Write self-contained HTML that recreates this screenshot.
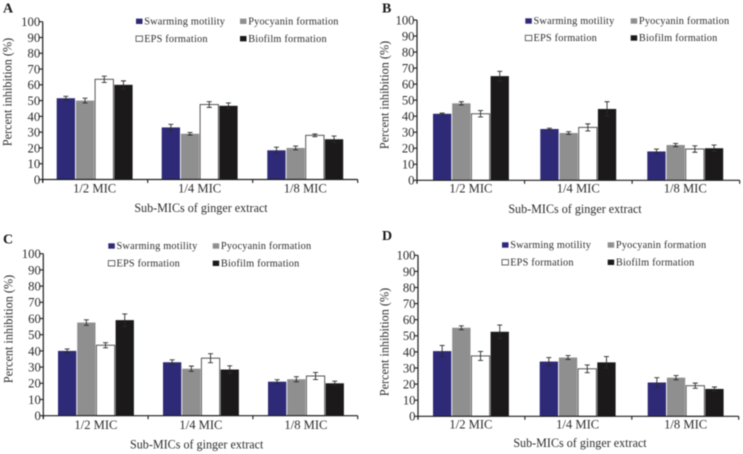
<!DOCTYPE html>
<html>
<head>
<meta charset="utf-8">
<style>
html,body{margin:0;padding:0;background:#fff;width:743px;height:454px;overflow:hidden}
svg{display:block;filter:blur(0.5px)}
text{font-family:"Liberation Serif",serif;fill:#2c2c2c}
</style>
</head>
<body>
<svg id="figure" width="743" height="454" viewBox="0 0 743 454" xmlns="http://www.w3.org/2000/svg"></svg>
<script>
const categories = ["1/2 MIC", "1/4 MIC", "1/8 MIC"];
const seriesNames = ["Swarming motility", "Pyocyanin formation", "EPS formation", "Biofilm formation"];
const tickLabels = [0, 10, 20, 30, 40, 50, 60, 70, 80, 90, 100];

const aSwarming = [51.5, 33, 18.5];
const aPyocyanin = [50, 29, 20];
const aEps = [63.5, 47.5, 28];
const aBiofilm = [60, 46.7, 25.5];
const aSwarmingErr = [1.2, 2, 2];
const aPyocyaninErr = [1.5, 0.8, 1.2];
const aEpsErr = [2, 1.8, 0.9];
const aBiofilmErr = [2.5, 1.8, 2];

const bSwarming = [41.5, 32, 18];
const bPyocyanin = [48, 29.5, 22];
const bEps = [41.5, 33, 19.5];
const bBiofilm = [65, 44.5, 20];
const bSwarmingErr = [0.4, 0.5, 1.5];
const bPyocyaninErr = [1, 0.8, 1];
const bEpsErr = [2, 2.2, 2];
const bBiofilmErr = [3, 4.5, 2];

const cSwarming = [40, 33, 21];
const cPyocyanin = [57.5, 29, 22.5];
const cEps = [43.5, 35.5, 24.5];
const cBiofilm = [59, 28.5, 20];
const cSwarmingErr = [1.2, 1.5, 1.2];
const cPyocyaninErr = [1.7, 1.6, 1.6];
const cEpsErr = [1.6, 2.8, 2.2];
const cBiofilmErr = [3.8, 2.3, 1.3];

const dSwarming = [40.5, 34, 21];
const dPyocyanin = [55, 36.5, 24];
const dEps = [37.5, 29.5, 19];
const dBiofilm = [52.5, 33.5, 17];
const dSwarmingErr = [3.5, 2.5, 3];
const dPyocyaninErr = [1.2, 1.2, 1.3];
const dEpsErr = [2.8, 2.4, 1.6];
const dBiofilmErr = [4.2, 3.6, 1.2];

const panels = [
  {id:"a", letter:"A", values:[aSwarming,aPyocyanin,aEps,aBiofilm], errors:[aSwarmingErr,aPyocyaninErr,aEpsErr,aBiofilmErr],
   left:42.7, right:357.7, base:179.5, top:21.7, groups:[56.7,161.7,267.3],
   letterX:3, letterY:12.7, legendX:[136,240], legendY:[21.3,38.7],
   catY:192.7, titleX:201, titleY:212, yTitleX:11.5, yTitleY:92},
  {id:"b", letter:"B", values:[bSwarming,bPyocyanin,bEps,bBiofilm], errors:[bSwarmingErr,bPyocyaninErr,bEpsErr,bBiofilmErr],
   left:417, right:739.7, base:180.3, top:20, groups:[433,540.3,647.3],
   letterX:382, letterY:12.7, legendX:[525.3,630.7], legendY:[21,38],
   catY:192.7, titleX:575, titleY:213, yTitleX:388.7, yTitleY:95},
  {id:"c", letter:"C", values:[cSwarming,cPyocyanin,cEps,cBiofilm], errors:[cSwarmingErr,cPyocyaninErr,cEpsErr,cBiofilmErr],
   left:43.3, right:357.7, base:415.7, top:253.7, groups:[58,163,268],
   letterX:3, letterY:243.7, legendX:[108.3,212.7], legendY:[246,263.3],
   catY:429, titleX:196.7, titleY:448.7, yTitleX:12.3, yTitleY:329},
  {id:"d", letter:"D", values:[dSwarming,dPyocyanin,dEps,dBiofilm], errors:[dSwarmingErr,dPyocyaninErr,dEpsErr,dBiofilmErr],
   left:418, right:738.7, base:416.3, top:255.3, groups:[433,539.7,647.7],
   letterX:382, letterY:240, legendX:[502,607.7], legendY:[245,262.3],
   catY:428.7, titleX:580, titleY:447, yTitleX:388.7, yTitleY:342}
];

const fills = ["#2e2a78", "#8f8f8f", "#ffffff", "#1b1919"];
const strokes = ["none", "none", "#444444", "none"];
const NS = "http://www.w3.org/2000/svg";
const figure = document.getElementById("figure");

function shape(parent, tag, props) {
  const el = document.createElementNS(NS, tag);
  for (const k in props) el.setAttribute(k, props[k]);
  parent.appendChild(el);
  return el;
}
function label(parent, str, x, y, size, anchor) {
  const el = shape(parent, "text", {x:x, y:y, "font-size":size, "text-anchor":anchor});
  el.textContent = str;
  return el;
}

panels.forEach(function (p) {
  const y = function (v) { return p.base - (v / 100) * (p.base - p.top); };
  const barW = 18.3, pitch = 19.2;

  const g = shape(figure, "g", {});
  
  

  const letter = label(g, p.letter, p.letterX, p.letterY, 14, "start");
  letter.setAttribute("font-weight", "bold");
  letter.setAttribute("style", "fill:#1a1a1a");
  
  

  // bars and error bars
  p.values.forEach(function (vals, s) {
    vals.forEach(function (v, c) {
      const x = p.groups[c] + s * pitch;
      const bar = shape(g, "rect", {x:x, y:y(v), width:barW, height:p.base - y(v), fill:fills[s], stroke:strokes[s], "stroke-width":0.9});
      
      

      const e = p.errors[s][c], cx = x + barW / 2;
      const err = shape(g, "path", {
        d:"M" + cx + " " + y(v + e) + "V" + y(v - e) +
          "M" + (cx - 2.5) + " " + y(v + e) + "H" + (cx + 2.5) +
          "M" + (cx - 2.5) + " " + y(v - e) + "H" + (cx + 2.5),
        fill:"none", stroke:"#2a2a2a", "stroke-width":0.9});
      
      
    });
  });

  // y axis
  const yAxis = shape(g, "line", {x1:p.left, y1:p.top, x2:p.left, y2:p.base + 3, stroke:"#1c1c1c", "stroke-width":1.2});
  
  
  tickLabels.forEach(function (t) {
    const tick = shape(g, "line", {x1:p.left - 3.5, y1:y(t), x2:p.left, y2:y(t), stroke:"#1c1c1c", "stroke-width":1.1});
    
    
    const tl = label(g, String(t), p.left - 2.5, y(t) + 4.4, 12.7, "end");
    
    
  });

  // x axis
  const xAxis = shape(g, "line", {x1:p.left, y1:p.base, x2:p.right, y2:p.base, stroke:"#1c1c1c", "stroke-width":1.2});
  
  
  for (let i = 0; i <= categories.length; i++) {
    const tx = p.left + (p.right - p.left) * i / categories.length;
    const xt = shape(g, "line", {x1:tx, y1:p.base, x2:tx, y2:p.base + 3.5, stroke:"#1c1c1c", "stroke-width":1.1});
    
    
  }
  categories.forEach(function (c, i) {
    const cl = label(g, c, p.groups[i] + (3 * pitch + barW) / 2, p.catY, 12.6, "middle");
    
    
  });

  const xTitle = label(g, "Sub-MICs of ginger extract", p.titleX, p.titleY, 12.1, "middle");
  
  

  const yTitle = label(g, "Percent inhibition (%)", 0, 0, 12.2, "middle");
  yTitle.setAttribute("transform", "translate(" + p.yTitleX + "," + p.yTitleY + ") rotate(-90)");
  
  

  // legend
  seriesNames.forEach(function (name, s) {
    const col = s % 2, row = s < 2 ? 0 : 1;
    const lx = p.legendX[col], ly = p.legendY[row];
    const sw = shape(g, "rect", {x:lx, y:ly - 2.7, width:6.5, height:5.4, fill:fills[s], stroke:strokes[s], "stroke-width":0.8});
    
    
    const lt = label(g, name, lx + 8.2, ly + 3.2, 10.3, "start");
    lt.setAttribute("letter-spacing", "0.2");
    
    
  });
});
</script>
</body>
</html>
